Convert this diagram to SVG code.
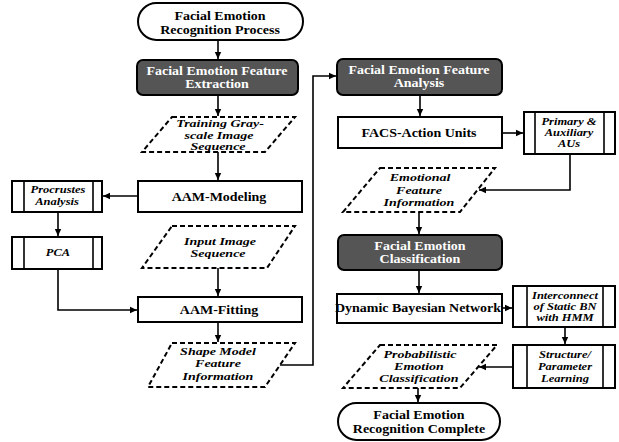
<svg xmlns="http://www.w3.org/2000/svg" width="619" height="442" viewBox="0 0 619 442">
<defs>
<style>
.b{fill:#fff;stroke:#000;stroke-width:2}
.d{fill:#555;stroke:#000;stroke-width:2}
.p{fill:#fff;stroke:#000;stroke-width:2;stroke-dasharray:5 3}
.t{font-family:"Liberation Serif","Times New Roman",serif;font-weight:bold;font-size:14px;text-anchor:middle;dominant-baseline:central;fill:#000;transform:scaleY(0.84);transform-box:fill-box;transform-origin:center}
.w{fill:#fff}
.i{font-style:italic;font-size:14px;transform:scaleY(0.76)}
.s{font-size:12.5px;transform:scaleY(0.78)}
.c{fill:none;stroke:#000;stroke-width:1.6}
</style>
<marker id="a" markerWidth="8" markerHeight="8" refX="7" refY="4" orient="auto" markerUnits="userSpaceOnUse">
<path d="M0,0.8 L7,4 L0,7.2 Z" fill="#000"/>
</marker>
</defs>
<rect width="619" height="442" fill="#fff"/>

<g id="connectors">
<path class="c" d="M218,40 V59" marker-end="url(#a)"/>
<path class="c" d="M218,95 V116" marker-end="url(#a)"/>
<path class="c" d="M218,152 V180" marker-end="url(#a)"/>
<path class="c" d="M138,196 H103" marker-end="url(#a)"/>
<path class="c" d="M58,212 V236" marker-end="url(#a)"/>
<path class="c" d="M218,268 V296" marker-end="url(#a)"/>
<path class="c" d="M58,269 V310 H137" marker-end="url(#a)"/>
<path class="c" d="M218,322 V342" marker-end="url(#a)"/>
<path class="c" d="M280,365 H313 V76 H336" marker-end="url(#a)"/>
<path class="c" d="M420,95 V116" marker-end="url(#a)"/>
<path class="c" d="M502,133 H523" marker-end="url(#a)"/>
<path class="c" d="M570,154 V190 H479" marker-end="url(#a)"/>
<path class="c" d="M419,212 V234" marker-end="url(#a)"/>
<path class="c" d="M419,270 V293" marker-end="url(#a)"/>
<path class="c" d="M502,308 H512" marker-end="url(#a)"/>
<path class="c" d="M565,327 V344" marker-end="url(#a)"/>
<path class="c" d="M513,367 H479" marker-end="url(#a)"/>
<path class="c" d="M418,388 V402" marker-end="url(#a)"/>
</g>

<g id="start">
<rect class="b" x="138" y="3" width="165" height="37" rx="18.5"/>
<text class="t" x="220" y="16">Facial Emotion</text>
<text class="t" x="220" y="30">Recognition Process</text>
</g>

<g id="extraction">
<rect class="d" x="137" y="60" width="161" height="35" rx="6"/>
<text class="t w" x="217" y="71">Facial Emotion Feature</text>
<text class="t w" x="217" y="84">Extraction</text>
</g>

<g id="training">
<polygon class="p" points="172,117 295,117 265,152 142,152"/>
<text class="t i" x="220" y="124">Training Gray-</text>
<text class="t i" x="219" y="136">scale Image</text>
<text class="t i" x="218" y="147">Sequence</text>
</g>

<g id="aam-modeling">
<rect class="b" x="138" y="181" width="164" height="31"/>
<text class="t" x="219" y="197">AAM-Modeling</text>
</g>

<g id="procrustes">
<rect class="b" x="12" y="181" width="90" height="31"/>
<path class="c" d="M24,181 V212 M93,181 V212"/>
<text class="t i s" x="58" y="190">Procrustes</text>
<text class="t i s" x="57" y="202">Analysis</text>
</g>

<g id="pca">
<rect class="b" x="12" y="237" width="90" height="32"/>
<path class="c" d="M24,237 V269 M93,237 V269"/>
<text class="t i s" x="58" y="253">PCA</text>
</g>

<g id="input">
<polygon class="p" points="172,226 295,226 267,268 142,268"/>
<text class="t i" x="220" y="242">Input Image</text>
<text class="t i" x="218" y="254">Sequence</text>
</g>

<g id="aam-fitting">
<rect class="b" x="138" y="297" width="164" height="25"/>
<text class="t" x="219" y="310">AAM-Fitting</text>
</g>

<g id="shape">
<polygon class="p" points="172,343 295,343 265,387 148,387"/>
<text class="t i" x="218" y="352">Shape Model</text>
<text class="t i" x="218" y="364">Feature</text>
<text class="t i" x="218" y="377">Information</text>
</g>

<g id="analysis">
<rect class="d" x="337" y="59" width="165" height="36" rx="6"/>
<text class="t w" x="419" y="70">Facial Emotion Feature</text>
<text class="t w" x="419" y="83">Analysis</text>
</g>

<g id="facs">
<rect class="b" x="338" y="117" width="164" height="31"/>
<text class="t" x="419" y="133">FACS-Action Units</text>
</g>

<g id="primary">
<rect class="b" x="524" y="112" width="91" height="42"/>
<path class="c" d="M535,112 V154 M604,112 V154"/>
<text class="t i s" x="569" y="122">Primary &amp;</text>
<text class="t i s" x="569" y="133">Auxiliary</text>
<text class="t i s" x="569" y="144">AUs</text>
</g>

<g id="emotional">
<polygon class="p" points="380,168 495,168 460,212 343,212"/>
<text class="t i" x="420" y="178">Emotional</text>
<text class="t i" x="419" y="191">Feature</text>
<text class="t i" x="419" y="203">Information</text>
</g>

<g id="classification">
<rect class="d" x="338" y="235" width="164" height="35" rx="6"/>
<text class="t w" x="420" y="246">Facial Emotion</text>
<text class="t w" x="420" y="259">Classification</text>
</g>

<g id="dbn">
<rect class="b" x="337" y="294" width="165" height="29"/>
<text class="t" x="418" y="308">Dynamic Bayesian Network</text>
</g>

<g id="interconnect">
<rect class="b" x="513" y="286" width="102" height="41"/>
<path class="c" d="M527,286 V327 M603,286 V327"/>
<text class="t i s" x="565" y="296">Interconnect</text>
<text class="t i s" x="565" y="307">of Static BN</text>
<text class="t i s" x="565" y="318">with HMM</text>
</g>

<g id="structure">
<rect class="b" x="513" y="345" width="102" height="43"/>
<path class="c" d="M527,345 V388 M603,345 V388"/>
<text class="t i s" x="565" y="355">Structure/</text>
<text class="t i s" x="565" y="367">Parameter</text>
<text class="t i s" x="565" y="379">Learning</text>
</g>

<g id="probabilistic">
<polygon class="p" points="380,345 497,345 460,388 343,388"/>
<text class="t i" x="420" y="355">Probabilistic</text>
<text class="t i" x="419" y="367">Emotion</text>
<text class="t i" x="419" y="379">Classification</text>
</g>

<g id="end">
<rect class="b" x="338" y="403" width="162" height="37" rx="18.5"/>
<text class="t" x="419" y="415">Facial Emotion</text>
<text class="t" x="419" y="429">Recognition Complete</text>
</g>
</svg>
